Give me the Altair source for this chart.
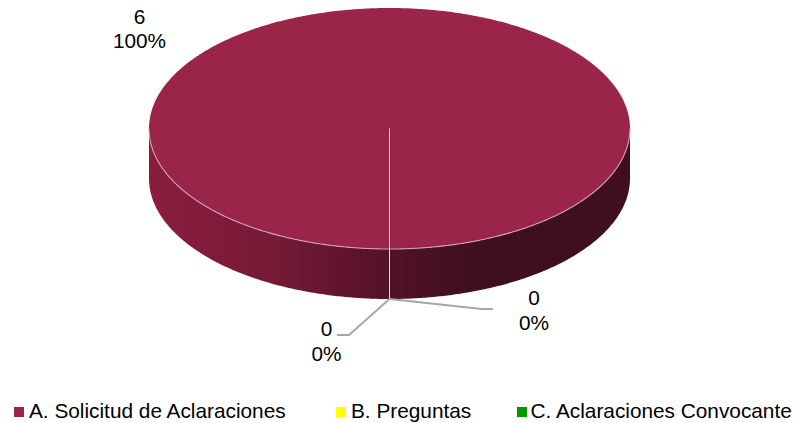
import altair as alt
import pandas as pd

categories = ["A. Solicitud de Aclaraciones", "B. Preguntas", "C. Aclaraciones Convocante"]
values = [6, 0, 0]
colors = ["#9b2449", "#ffff00", "#009900"]

total = sum(values)
percent = [f"{v / total:.0%}" for v in values]

# layout, in plot pixels (picture pixels minus the 8px page margin)
W, H = 785, 415
CX, CY, RX, RY, DEPTH = 381.5, 120.5, 240.5, 120.5, 50
FONT = "Liberation Sans"
FS_LABEL = 20.8
FS_LEGEND = 20.8
LABEL_X = [131.5, 526, 318.5]
LABEL_Y_VALUE = [15.5, 297, 328]
LABEL_Y_PCT = [39.5, 322, 353]
LEGEND_TEXT_X = [21, 343, 522.5]
LEGEND_BOX_X = [11, 333, 514]
LEGEND_BASE = 410
LEGEND_BOX_Y = 404
LEADERS = [
    [(381.5, 291), (474, 301), (485, 301)],
    [(381.5, 291), (341, 327), (329, 327)],
]

X = lambda f: alt.X(f, scale=None, axis=None)
Y = lambda f: alt.Y(f, scale=None, axis=None)

seq = alt.sequence(0, 180.25, 0.5, as_="deg")
geom = (
    alt.Chart(seq)
    .transform_calculate(
        px=f"{CX} - {RX} * cos(datum.deg * PI / 180)",
        upper=f"{CY} - {RY} * sin(datum.deg * PI / 180)",
        lower=f"{CY} + {RY} * sin(datum.deg * PI / 180)",
        under=f"{CY} + {DEPTH} + {RY} * sin(datum.deg * PI / 180)",
    )
)

side = geom.mark_area(
    color=alt.Gradient(
        gradient="linear",
        x1=0, x2=1, y1=0, y2=0,
        stops=[
            alt.GradientStop(color="#8a1d3d", offset=0),
            alt.GradientStop(color="#741a35", offset=0.27),
            alt.GradientStop(color="#521226", offset=0.5),
            alt.GradientStop(color="#3f0f1d", offset=0.68),
            alt.GradientStop(color="#3f0f1d", offset=1),
        ],
    )
).encode(x=X("px:Q"), y=Y("lower:Q"), y2="under:Q")

top = geom.mark_area(color=colors[0]).encode(x=X("px:Q"), y=Y("upper:Q"), y2="lower:Q")

rim = geom.mark_line(color="#d9b3bf", strokeWidth=1.1, opacity=0.85).encode(x=X("px:Q"), y=Y("lower:Q"))

spoke = (
    alt.Chart(pd.DataFrame({"c": [categories[0]]}))
    .mark_rule(color="#f0d8de", strokeWidth=1)
    .encode(x=alt.value(CX), y=alt.value(CY), y2=alt.value(CY + RY + DEPTH))
)

layers = [side, top, rim, spoke]

for path in LEADERS:
    df = pd.DataFrame(path, columns=["px", "py"]).assign(order=range(len(path)))
    layers.append(
        alt.Chart(df)
        .mark_line(color="#a6a6a6", strokeWidth=1.8)
        .encode(x=X("px:Q"), y=Y("py:Q"), order="order:O")
    )

for i, cat in enumerate(categories):
    row = pd.DataFrame({"cat": [cat], "val": [str(values[i])], "pct": [percent[i]], "col": [colors[i]]})
    base = alt.Chart(row)
    layers.append(
        base.mark_text(font=FONT, fontSize=FS_LABEL, align="center", baseline="alphabetic", color="#000000")
        .encode(text="val:N", x=alt.value(LABEL_X[i]), y=alt.value(LABEL_Y_VALUE[i]))
    )
    layers.append(
        base.mark_text(font=FONT, fontSize=FS_LABEL, align="center", baseline="alphabetic", color="#000000")
        .encode(text="pct:N", x=alt.value(LABEL_X[i]), y=alt.value(LABEL_Y_PCT[i]))
    )
    layers.append(
        base.mark_square(size=100, opacity=1, filled=True)
        .encode(
            x=alt.value(LEGEND_BOX_X[i]),
            y=alt.value(LEGEND_BOX_Y),
            color=alt.Color("col:N", scale=None, legend=None),
        )
    )
    layers.append(
        base.mark_text(font=FONT, fontSize=FS_LEGEND, align="left", baseline="alphabetic", color="#000000")
        .encode(text="cat:N", x=alt.value(LEGEND_TEXT_X[i]), y=alt.value(LEGEND_BASE))
    )

chart = (
    alt.layer(*layers)
    .properties(width=W, height=H, padding=0, autosize=alt.AutoSizeParams(type="none"), background="#ffffff")
    .configure_view(stroke=None)
)
chart.save("out.html", embed_options={"renderer": "svg", "actions": False})
